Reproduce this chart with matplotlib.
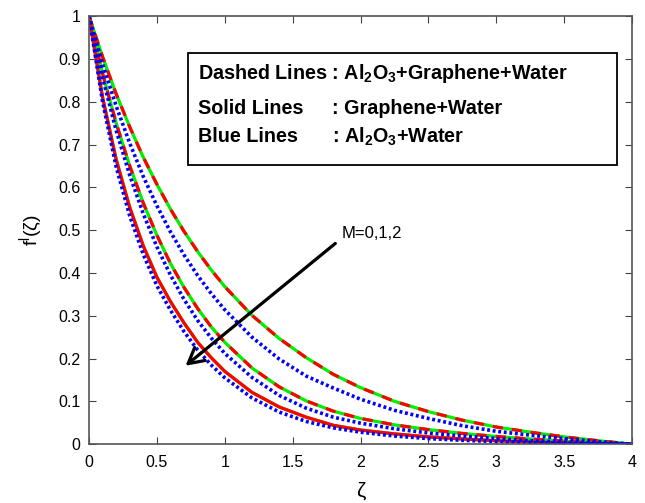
import matplotlib
matplotlib.use("Agg")
import matplotlib.pyplot as plt

plt.rcParams['font.family'] = ['Liberation Sans', 'DejaVu Sans']
plt.rcParams['mathtext.fontset'] = 'custom'
plt.rcParams['mathtext.rm'] = 'Liberation Sans'
plt.rcParams['mathtext.bf'] = 'Liberation Sans:bold'

zeta = [0, 0.1, 0.2, 0.3, 0.4, 0.5, 0.6, 0.7, 0.8, 0.9, 1.0, 1.2, 1.4, 1.6, 1.8,
        2.0, 2.25, 2.5, 2.75, 3.0, 3.25, 3.5, 3.75, 4.0]

# Graphene+Water / Al2O3+Graphene+Water (nearly identical), M = 0, 1, 2
gw_m0 = [1.0, 0.905, 0.818, 0.741, 0.670, 0.607, 0.549, 0.497, 0.450, 0.407, 0.368, 0.301,
         0.247, 0.202, 0.163, 0.132, 0.100, 0.076, 0.056, 0.040, 0.028, 0.017, 0.008, 0.0]
gw_m1 = [1.0, 0.866, 0.750, 0.650, 0.563, 0.488, 0.422, 0.366, 0.317, 0.274, 0.238, 0.178,
         0.134, 0.101, 0.077, 0.060, 0.045, 0.034, 0.025, 0.018, 0.012, 0.007, 0.003, 0.0]
gw_m2 = [1.0, 0.810, 0.665, 0.553, 0.463, 0.390, 0.333, 0.283, 0.238, 0.202, 0.170, 0.121,
         0.087, 0.063, 0.044, 0.033, 0.024, 0.017, 0.012, 0.008, 0.005, 0.003, 0.001, 0.0]

# Al2O3+Water, M = 0, 1, 2
aw_m0 = [1.0, 0.888, 0.790, 0.703, 0.625, 0.557, 0.496, 0.442, 0.394, 0.352, 0.314, 0.250,
         0.199, 0.159, 0.131, 0.105, 0.079, 0.060, 0.043, 0.030, 0.021, 0.013, 0.006, 0.0]
aw_m1 = [1.0, 0.856, 0.733, 0.628, 0.538, 0.461, 0.395, 0.338, 0.289, 0.248, 0.212, 0.156,
         0.114, 0.084, 0.063, 0.049, 0.036, 0.026, 0.019, 0.013, 0.008, 0.005, 0.002, 0.0]
aw_m2 = [1.0, 0.800, 0.648, 0.533, 0.443, 0.370, 0.313, 0.263, 0.220, 0.185, 0.155, 0.108,
         0.075, 0.053, 0.038, 0.028, 0.019, 0.013, 0.009, 0.006, 0.004, 0.002, 0.001, 0.0]

fig = plt.figure(figsize=(6.45, 5.03), dpi=100)
ax = fig.add_axes([0.138, 0.117, 0.842, 0.851])

lw = 2.3
for gw in [gw_m0, gw_m1]:
    ax.plot(zeta, gw, color='#00ee00', lw=lw)
    ax.plot(zeta, gw, color='red', lw=lw, ls=(0, (3.2, 2.8)))
ax.plot(zeta, gw_m2, color='#00ee00', lw=lw)
ax.plot(zeta, gw_m2, color='red', lw=lw)
for aw in [aw_m0, aw_m1, aw_m2]:
    ax.plot(zeta, aw, color='blue', lw=2.6, ls=(0, (0.8, 0.75)))

ax.set_xlim(0, 4)
ax.set_ylim(0, 1)
ax.set_xticks([0, 0.5, 1, 1.5, 2, 2.5, 3, 3.5, 4])
ax.set_xticklabels(['0', '0.5', '1', '1.5', '2', '2.5', '3', '3.5', '4'])
ax.set_yticks([0, 0.1, 0.2, 0.3, 0.4, 0.5, 0.6, 0.7, 0.8, 0.9, 1])
ax.set_yticklabels(['0', '0.1', '0.2', '0.3', '0.4', '0.5', '0.6', '0.7', '0.8', '0.9', '1'])
ax.tick_params(direction='in', top=True, right=True, labelsize=11.5, length=5,
               colors='#444444', labelcolor='black')
ax.tick_params(axis='x', pad=8)
ax.tick_params(axis='y', pad=6)
for s in ax.spines.values():
    s.set_color('#555555')
    s.set_linewidth(1.2)

ax.set_xlabel('ζ', fontsize=15, labelpad=8)
ax.set_ylabel(r'f$^{\mathrm{l}}$(ζ)', fontsize=14, labelpad=9)

# legend-like text box
box = plt.Rectangle((0.729, 0.652), 3.16, 0.262, fill=False, lw=1.3, ec='black', zorder=5)
ax.add_patch(box)
fs = 14.2
ax.text(0.80, 0.865, r'Dashed Lines : Al$_{\mathbf{2}}$O$_{\mathbf{3}}$+Graphene+Water',
        fontsize=fs, fontweight='bold', va='center', zorder=6)
ax.text(0.80, 0.785, 'Solid Lines', fontsize=fs, fontweight='bold', va='center', zorder=6)
ax.text(1.79, 0.785, ': Graphene+Water', fontsize=fs, fontweight='bold', va='center', zorder=6)
ax.text(0.80, 0.718, 'Blue Lines', fontsize=fs, fontweight='bold', va='center', zorder=6)
ax.text(1.79, 0.718, r': Al$_{\mathbf{2}}$O$_{\mathbf{3}}$+Water', fontsize=fs,
        fontweight='bold', va='center', zorder=6)

ax.annotate('', xy=(0.695, 0.179), xytext=(1.83, 0.473),
            arrowprops=dict(arrowstyle='->,head_length=0.55,head_width=0.3', color='black',
                            lw=2.3, mutation_scale=20), zorder=7)
ax.text(1.86, 0.492, 'M=0,1,2', fontsize=12, va='center', ha='left')

fig.savefig('out.png', dpi=100)
